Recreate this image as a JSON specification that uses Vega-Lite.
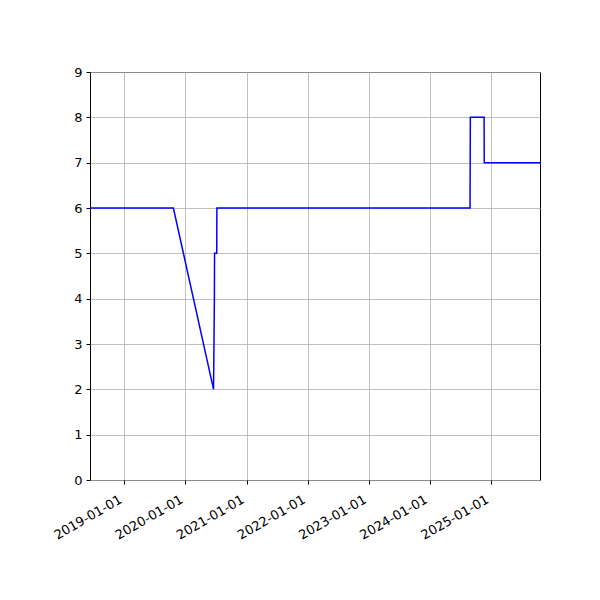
{
  "$schema": "https://vega.github.io/schema/vega-lite/v6.json",
  "width": 450,
  "height": 408,
  "autosize": {"type": "none"},
  "padding": {"left": 90, "top": 72, "right": 60, "bottom": 120},
  "background": "#ffffff",
  "config": {
    "view": {"stroke": "#000000", "strokeWidth": 1},
    "font": "DejaVu Sans",
    "axis": {
      "labelFont": "DejaVu Sans",
      "labelFontSize": 13,
      "labelColor": "#000000",
      "domain": false,
      "tickColor": "#000000",
      "tickSize": 4,
      "tickWidth": 1,
      "grid": true,
      "gridColor": "#b0b0b0",
      "gridWidth": 0.8,
      "title": null
    }
  },
  "data": {
    "values": [
      {"date": "2018-06-01", "value": 6},
      {"date": "2019-10-21", "value": 6},
      {"date": "2020-06-17", "value": 2},
      {"date": "2020-06-22", "value": 4},
      {"date": "2020-06-23", "value": 5},
      {"date": "2020-07-06", "value": 5},
      {"date": "2020-07-07", "value": 6},
      {"date": "2024-08-27", "value": 6},
      {"date": "2024-08-28", "value": 7},
      {"date": "2024-08-29", "value": 8},
      {"date": "2024-11-19", "value": 8},
      {"date": "2024-11-20", "value": 7},
      {"date": "2025-11-01", "value": 7}
    ]
  },
  "mark": {"type": "line", "color": "#0000ff", "strokeWidth": 1.5, "clip": true},
  "encoding": {
    "x": {
      "field": "date",
      "type": "temporal",
      "scale": {
        "type": "utc",
        "domain": [
          {"year": 2018, "month": 6, "date": 10, "utc": true},
          {"year": 2025, "month": 10, "date": 19, "utc": true}
        ]
      },
      "axis": {
        "format": "%Y-%m-%d",
        "tickCount": {"interval": "year", "step": 1},
        "labelAngle": -30,
        "labelAlign": "right",
        "labelBaseline": "top",
        "labelPadding": 9,
        "labelOffset": -7,
        "labelOverlap": false
      }
    },
    "y": {
      "field": "value",
      "type": "quantitative",
      "scale": {"domain": [0, 9], "nice": false},
      "axis": {"values": [0, 1, 2, 3, 4, 5, 6, 7, 8, 9], "labelPadding": 4}
    }
  }
}
